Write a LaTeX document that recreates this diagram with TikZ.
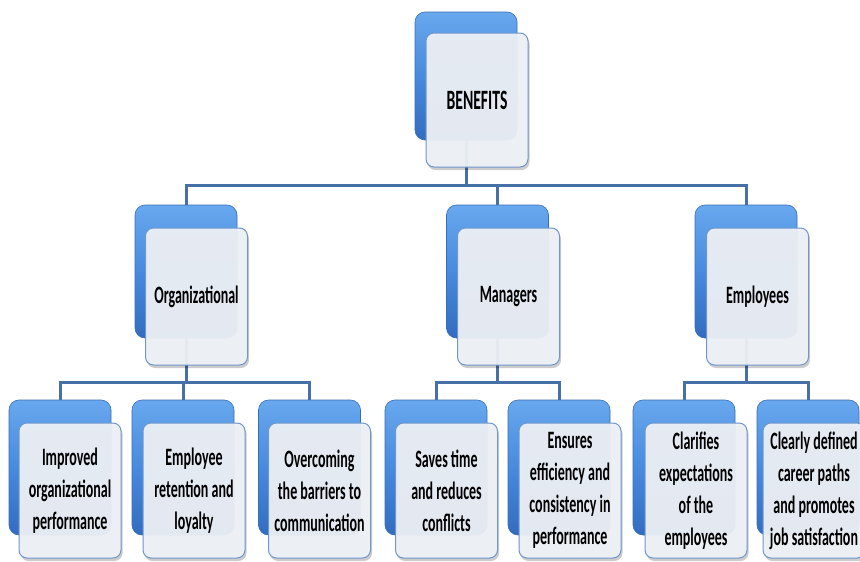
\documentclass[tikz,border=0pt]{standalone}
\usepackage{fontspec}
\setmainfont{Carlito}[FakeStretch=0.56]
\usetikzlibrary{shadows}
\definecolor{bluetop}{RGB}{104,168,238}
\definecolor{bluemid}{RGB}{72,138,222}
\definecolor{bluebot}{RGB}{50,108,192}
\definecolor{blueedge}{RGB}{58,110,180}
\definecolor{frontfill}{RGB}{238,241,246}
\definecolor{frontedge}{RGB}{112,150,204}
\definecolor{connclr}{RGB}{72,112,168}
\pgfdeclarelayer{background}
\pgfsetlayers{background,main}
\begin{document}
\begin{tikzpicture}[x=1pt,y=-1pt,
  backbox/.style={rectangle, rounded corners=10pt, minimum width=102pt, minimum height=135pt,
    inner sep=0pt, top color=bluetop, bottom color=bluebot, middle color=bluemid, draw=blueedge, line width=0.6pt},
  frontbox/.style={rectangle, rounded corners=8pt, minimum width=102pt, minimum height=135pt,
    inner sep=0pt, fill=frontfill, fill opacity=0.95, text opacity=1, draw=frontedge, line width=1pt,
    drop shadow={shadow xshift=1.5pt, shadow yshift=-3pt, opacity=0.2, fill=black},
    align=center, font=\bfseries\fontsize{25pt}{32pt}\selectfont},
  conn/.style={draw=connclr, line width=3pt}]
\useasboundingbox (0,0) rectangle (860,562);

% bus coordinates
\coordinate (bus0) at (0,185);
\coordinate (bus1) at (0,382);

% back (blue) boxes
\node[backbox, minimum height=128pt] (tb) at (466,76) {};
\node[backbox, minimum height=133pt] (ob) at (186,271.5) {};
\node[backbox, minimum height=133pt] (mb) at (497.5,271.5) {};
\node[backbox, minimum height=133pt] (eb) at (746,271.5) {};
\node[backbox] (b1b) at (60,467.5) {};
\node[backbox] (b2b) at (183,467.5) {};
\node[backbox] (b3b) at (309.5,467.5) {};
\node[backbox] (b4b) at (436,467.5) {};
\node[backbox] (b5b) at (559,467.5) {};
\node[backbox] (b6b) at (684,467.5) {};
\node[backbox] (b7b) at (808,467.5) {};

% front boxes
\node[frontbox, minimum height=134pt, font=\bfseries\fontsize{28pt}{32pt}\selectfont] (tf) at (477,100) {BENEFITS};
\node[frontbox, minimum height=137pt] (of) at (196.5,296.5) {Organizational};
\node[frontbox, minimum height=137pt] (mf) at (508.5,296.5) {Managers};
\node[frontbox, minimum height=137pt] (ef) at (757.5,296.5) {Employees};
\node[frontbox] (b1f) at (70,490.5) {Improved\\organizational\\performance};
\node[frontbox] (b2f) at (194,490.5) {Employee\\retention and\\loyalty};
\node[frontbox] (b3f) at (319.5,490.5) {Overcoming\\the barriers to\\communication};
\node[frontbox] (b4f) at (446.5,490.5) {Saves time\\and reduces\\conflicts};
\node[frontbox] (b5f) at (570,490.5) {Ensures\\efficiency and\\consistency in\\performance};
\node[frontbox] (b6f) at (696,490.5) {Clarifies\\expectations\\of the\\employees};
\node[frontbox] (b7f) at (814,490.5) {Clearly defined\\career paths\\and promotes\\job satisfaction};

% connectors (behind boxes)
\begin{pgfonlayer}{background}
\fill[white] (0,0) rectangle (860,562);
\draw[conn] (tb.center) -- (tb.center |- bus0);
\draw[conn] (ob.north) |- (tb.center |- bus0) -| (eb.north);
\draw[conn] (mb.north) -- (mb.north |- bus0);
\draw[conn] (ob.center) -- (ob.center |- bus1);
\draw[conn] (b1b.north) |- (ob.center |- bus1) -| (b3b.north);
\draw[conn] (b2b.north) -- (b2b.north |- bus1);
\draw[conn] (mb.center) -- (mb.center |- bus1);
\draw[conn] (b4b.north) |- (mb.center |- bus1) -| (b5b.north);
\draw[conn] (eb.center) -- (eb.center |- bus1);
\draw[conn] (b6b.north) |- (eb.center |- bus1) -| (b7b.north);
\end{pgfonlayer}
\end{tikzpicture}
\end{document}
